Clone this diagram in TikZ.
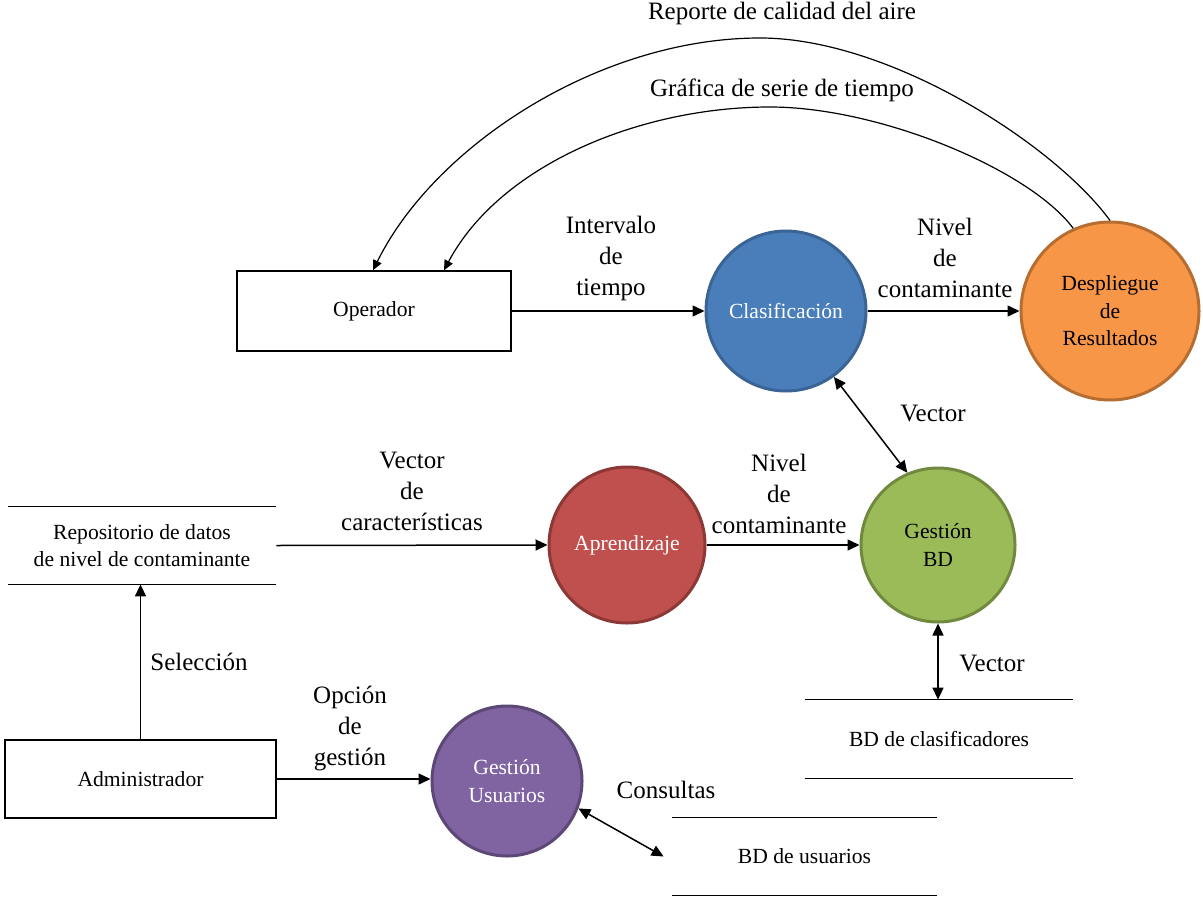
\documentclass[tikz,border=0pt]{standalone}
\usepackage{fontspec}
\setmainfont{Liberation Serif}
\usetikzlibrary{arrows.meta}
\definecolor{cblue}{HTML}{4A7EBB}\definecolor{cbluel}{HTML}{3A6493}
\definecolor{corange}{HTML}{F79646}\definecolor{corangel}{HTML}{B66D31}
\definecolor{cred}{HTML}{C0504D}\definecolor{credl}{HTML}{8C3836}
\definecolor{cgreen}{HTML}{9BBB59}\definecolor{cgreenl}{HTML}{71893F}
\definecolor{cpurple}{HTML}{8064A2}\definecolor{cpurplel}{HTML}{5C4776}
\tikzset{
  proc/.style={circle, line width=1.5pt, align=center, inner sep=0pt,
    font=\fontsize{10.8}{13.75}\selectfont},
  ent/.style={draw, line width=0.75pt, align=center,
    font=\fontsize{10.8}{13.75}\selectfont},
  store/.style={align=center, inner sep=0pt, font=\fontsize{10.8}{13.75}\selectfont},
  lbl/.style={align=center, inner sep=0pt, font=\fontsize{12.5}{15.5}\selectfont},
  arr/.style={line width=0.75pt, -{Triangle[length=6pt,width=5.5pt]}},
  barr/.style={line width=0.75pt, {Triangle[length=6pt,width=5.5pt]}-{Triangle[length=6pt,width=5.5pt]}},
  carr/.style={line width=0.6pt, -{Triangle[length=5pt,width=4.5pt]}}
}
\begin{document}
\begin{tikzpicture}[x=0.5pt,y=-0.5pt]
\useasboundingbox (0,0) rectangle (1203,899);

% external entities
\node[ent, minimum width=137pt, minimum height=40pt] (op) at (374,311) {Operador};
\node[ent, minimum width=135.5pt, minimum height=39pt] (adm) at (140.5,779) {Administrador};

% processes
\node[proc, fill=cblue, draw=cbluel, text=white, minimum size=80pt] (clas) at (786,311) {Clasificación};
\node[proc, fill=corange, draw=corangel, minimum size=89pt] (desp) at (1110,311) {Despliegue\\de\\Resultados};
\node[proc, fill=cred, draw=credl, text=white, minimum size=78pt] (apr) at (627,545) {Aprendizaje};
\node[proc, fill=cgreen, draw=cgreenl, minimum size=77pt] (gbd) at (938,545) {Gestión\\BD};
\node[proc, fill=cpurple, draw=cpurplel, text=white, minimum size=75pt] (gu) at (507,781) {Gestión\\Usuarios};

% data stores
\node[store, minimum width=134pt, minimum height=38.5pt] (rep) at (142,545.5) {Repositorio de datos\\de nivel de contaminante};
\node[store, minimum width=134pt, minimum height=39pt] (bdc) at (939,739) {BD de clasificadores};
\node[store, minimum width=132.5pt, minimum height=38.5pt] (bdu) at (804.5,856.5) {BD de usuarios};
\foreach \s in {rep,bdc,bdu}{
  \draw[line width=0.75pt] (\s.north west) -- (\s.north east);
  \draw[line width=0.75pt] (\s.south west) -- (\s.south east);
}

% flows
\draw[arr] (op.east) -- (clas.west);
\draw[arr] (clas.east) -- (desp.west);
\draw[barr] (clas.-54) -- (gbd.113);
\draw[arr] (rep.east) -- (apr.west);
\draw[arr] (apr.east) -- (gbd.west);
\draw[barr] (gbd.south) -- (gbd.south |- bdc.north);
\draw[arr] (adm.north) -- (adm.north |- rep.south);
\draw[arr] (adm.east) -- (adm.east -| gu.west);
\draw[barr] (gu.-21) -- ([xshift=-4pt]bdu.west);

% report arcs back to the operator
\coordinate (top1) at (760,38);
\coordinate (top2) at (770,107);
\draw[carr] (desp.north) .. controls (1055,145) and (890,38) .. (top1)
  .. controls (600,38) and (435,145) .. ([xshift=-0.5pt]op.north);
\draw[carr] (desp.114) .. controls (1030,170) and (880,107) .. (top2)
  .. controls (640,107) and (500,165) .. ([xshift=35pt]op.north);

% flow labels
\node[lbl] (l1) at (782,13) {Reporte de calidad del aire};
\node[lbl] (l2) at (782,90) {Gráfica de serie de tiempo};
\node[lbl] (l3) at (611,258) {Intervalo\\de\\tiempo};
\node[lbl] (l4) at (945,258) {Nivel\\de\\contaminante};
\node[lbl] (l5) at (933,413) {Vector};
\node[lbl] (l6) at (412,491) {Vector\\de\\características};
\node[lbl] (l7) at (779,494) {Nivel\\de\\contaminante};
\node[lbl] (l8) at (992,663) {Vector};
\node[lbl] (l9) at (199,662) {Selección};
\node[lbl] (l10) at (350,728) {Opción\\de\\gestión};
\node[lbl] (l11) at (666,790) {Consultas};
\end{tikzpicture}
\end{document}
